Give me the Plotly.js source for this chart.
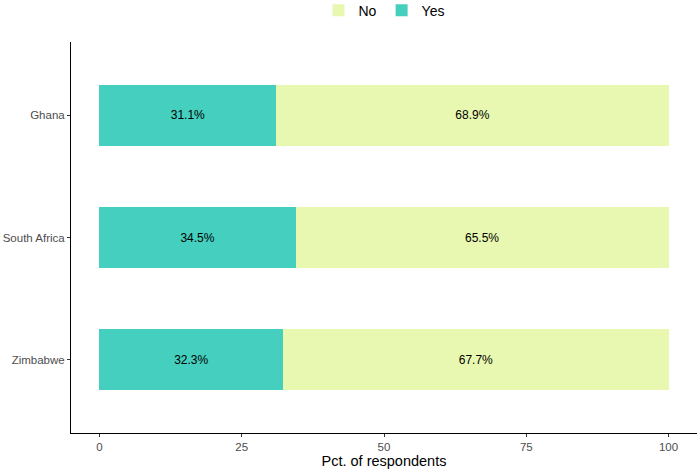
<!DOCTYPE html>
<html>
<head>
<meta charset="utf-8">
<script src="https://cdn.plot.ly/plotly-3.0.1.min.js"></script>
<style>
  html, body { margin: 0; padding: 0; background: #fff; }
  #chart { width: 699px; height: 470px; }
</style>
</head>
<body>
<div id="chart"></div>
<script>
var countries = ["Ghana", "South Africa", "Zimbabwe"];
var yesPct = [31.1, 34.5, 32.3];
var noPct = [68.9, 65.5, 67.7];
var xTicks = [0, 25, 50, 75, 100];

var colors = {yes: "#45CFBF", no: "#E8F8B0"};

function labels(vals) {
    return vals.map(function (v) { return v.toFixed(1) + "%"; });
}

var traceYes = {
    type: "bar",
    orientation: "h",
    name: "Yes",
    y: countries,
    x: yesPct,
    text: labels(yesPct),
    textposition: "inside",
    insidetextanchor: "middle",
    textfont: {color: "#000", size: 12},
    marker: {color: colors.yes},
    width: 0.5,
    hoverinfo: "none"
};

var traceNo = {
    type: "bar",
    orientation: "h",
    name: "No",
    y: countries,
    x: noPct,
    text: labels(noPct),
    textposition: "inside",
    insidetextanchor: "middle",
    textfont: {color: "#000", size: 12},
    marker: {color: colors.no},
    width: 0.5,
    hoverinfo: "none"
};

var layout = {
    width: 699,
    height: 470,
    barmode: "stack",
    font: {family: "Liberation Sans, Arial, sans-serif", color: "#000"},
    paper_bgcolor: "#fff",
    plot_bgcolor: "#fff",
    margin: {l: 71, r: 2, t: 42, b: 37, pad: 0, autoexpand: false},
    showlegend: true,
    legend: {
        orientation: "h",
        x: 0.5, xanchor: "center",
        y: 1.08, yanchor: "middle",
        traceorder: "reversed",
        font: {size: 14, color: "#000"},
        itemwidth: 30
    },
    xaxis: {
        range: [-5, 105],
        tickvals: xTicks,
        ticktext: xTicks.map(String),
        showgrid: false,
        zeroline: false,
        showline: true,
        linecolor: "#000",
        linewidth: 1,
        ticks: "outside",
        ticklen: 3,
        tickcolor: "#333",
        tickfont: {size: 11.5, color: "#4D4D4D"},
        title: {text: "Pct. of respondents", font: {size: 14.5, color: "#000"}, standoff: 2}
    },
    yaxis: {
        range: [2.6, -0.6],
        autorange: false,
        showgrid: false,
        zeroline: false,
        showline: true,
        linecolor: "#000",
        linewidth: 1,
        ticks: "outside",
        ticklen: 3,
        tickcolor: "#333",
        tickfont: {size: 11.5, color: "#4D4D4D"}
    }
};

Plotly.newPlot("chart", [traceYes, traceNo], layout, {displayModeBar: false, staticPlot: true});
</script>
</body>
</html>
